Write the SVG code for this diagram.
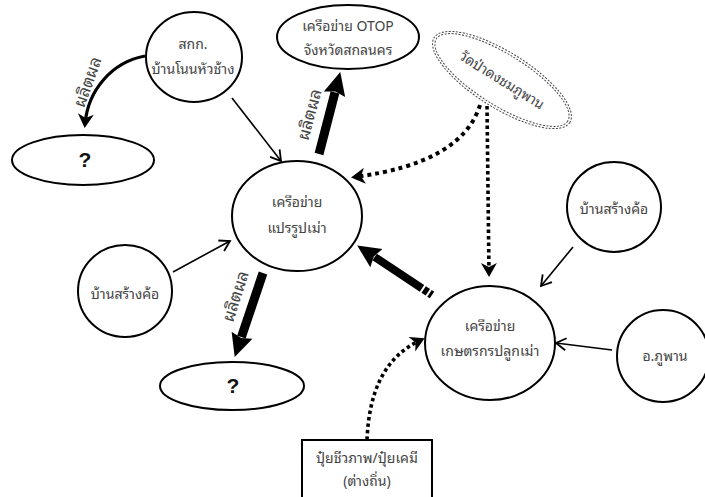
<svg xmlns="http://www.w3.org/2000/svg" width="705" height="497" viewBox="0 0 705 497">
<defs>
<style>
.node{fill:#fff;stroke:#000;stroke-width:2}
.t{font-family:"Noto Sans Thai Looped","Noto Serif Thai","Loma","Garuda","Noto Sans Thai","Noto Sans","DejaVu Sans",sans-serif;font-size:14px;fill:#444;text-anchor:middle}
.lbl{font-size:17px}
.q{font-family:"Liberation Sans",Arial,sans-serif;font-size:21px;font-weight:bold;fill:#111;text-anchor:middle}
.thin{fill:none;stroke:#000;stroke-width:1.6}
.thick{fill:none;stroke:#000;stroke-width:9}
.dot{fill:none;stroke:#000;stroke-width:3.6;stroke-dasharray:3.5 3}
</style>
<marker id="open" markerUnits="userSpaceOnUse" viewBox="-12 -8 14 16" refX="0" refY="0" markerWidth="14" markerHeight="16" orient="auto">
<path d="M-10,-6 L0,0 L-10,6" fill="none" stroke="#000" stroke-width="1.8"/>
</marker>
<marker id="notch" markerUnits="userSpaceOnUse" viewBox="-14 -10 20 20" refX="0" refY="0" markerWidth="20" markerHeight="20" orient="auto">
<path d="M4,0 L-10,-8 L-6,0 L-10,8 Z" fill="#000"/>
</marker>
<marker id="big" markerUnits="userSpaceOnUse" viewBox="-4 -13 28 26" refX="0" refY="0" markerWidth="28" markerHeight="26" orient="auto">
<path d="M-2,-11 L21,0 L-2,11 L1,0 Z" fill="#000"/>
</marker>
</defs>
<rect width="705" height="497" fill="#fff"/>

<g id="connectors">
<path d="M145,56 C112,62 88,90 85,124" fill="none" stroke="#000" stroke-width="3.2" marker-end="url(#notch)"/>
<text class="t lbl" transform="translate(93,84) rotate(-70)">ผลิตผล</text>
<line class="thin" x1="232" y1="98" x2="281" y2="161" marker-end="url(#open)"/>
<line class="thick" x1="319" y1="154" x2="335" y2="92.4" marker-end="url(#big)"/>
<text class="t lbl" transform="translate(315,116) rotate(-75)">ผลิตผล</text>
<path class="dot" d="M480,105 Q462,163 355,177" style="stroke-width:4;stroke-dasharray:4 4" marker-end="url(#notch)"/>
<line class="dot" x1="487" y1="106" x2="489" y2="273" marker-end="url(#notch)"/>
<path d="M432,295 L374.7,257" fill="none" stroke="#000" stroke-width="8" stroke-dasharray="3 2 5 2 1000" marker-end="url(#big)"/>
<line class="thin" x1="173" y1="272" x2="230" y2="241" marker-end="url(#open)"/>
<line class="thick" x1="263" y1="273" x2="241.4" y2="337.1" marker-end="url(#big)"/>
<text class="t lbl" transform="translate(241,298) rotate(-72)">ผลิตผล</text>
<line class="thin" x1="573" y1="247" x2="541" y2="286" marker-end="url(#open)"/>
<line class="thin" x1="612" y1="350" x2="556" y2="343" marker-end="url(#open)"/>
<path class="dot" d="M367,440 C369,392 384,357 421,340" marker-end="url(#notch)"/>
</g>

<g id="n-saktk">
<ellipse class="node" cx="194" cy="57" rx="48" ry="45"/>
<text class="t" x="193" y="49">สกก.</text>
<text class="t" x="193" y="74">บ้านโนนหัวช้าง</text>
</g>
<g id="n-q1">
<ellipse class="node" cx="83" cy="160" rx="71" ry="25"/>
<text class="q" x="85" y="167">?</text>
</g>
<g id="n-otop">
<ellipse class="node" cx="348" cy="37" rx="71" ry="32"/>
<text class="t" x="348" y="31">เครือข่าย OTOP</text>
<text class="t" x="348" y="55">จังหวัดสกลนคร</text>
</g>
<g id="n-wat">
<g transform="translate(502,80) rotate(32)">
<ellipse cx="0" cy="0" rx="80" ry="28" fill="none" stroke="#444" stroke-width="1" stroke-dasharray="2 1.5"/>
<ellipse cx="0" cy="0" rx="77.5" ry="25.5" fill="none" stroke="#444" stroke-width="1" stroke-dasharray="2 1.5"/>
<text class="t" x="0" y="5">วัดป่าดงชมภูพาน</text>
</g>
</g>
<g id="n-center">
<ellipse class="node" cx="297" cy="216" rx="65" ry="55"/>
<text class="t" x="297" y="207">เครือข่าย</text>
<text class="t" x="297" y="233">แปรรูปเม่า</text>
</g>
<g id="n-left">
<ellipse class="node" cx="125" cy="291" rx="47" ry="46"/>
<text class="t" x="125" y="299">บ้านสร้างค้อ</text>
</g>
<g id="n-q2">
<ellipse class="node" cx="232" cy="386" rx="72" ry="24"/>
<text class="q" x="233" y="393">?</text>
</g>
<g id="n-farm">
<ellipse class="node" cx="490" cy="343" rx="65" ry="57"/>
<text class="t" x="490" y="331">เครือข่าย</text>
<text class="t" x="490" y="356">เกษตรกรปลูกเม่า</text>
</g>
<g id="n-right">
<ellipse class="node" cx="614" cy="207" rx="47" ry="45"/>
<text class="t" x="614" y="214">บ้านสร้างค้อ</text>
</g>
<g id="n-phuphan">
<ellipse class="node" cx="663" cy="356" rx="46" ry="46"/>
<text class="t" x="665" y="361">อ.ภูพาน</text>
</g>
<g id="n-box">
<rect class="node" x="302" y="440" width="130" height="62"/>
<text class="t" x="367" y="463">ปุ๋ยชีวภาพ/ปุ๋ยเคมี</text>
<text class="t" x="367" y="486">(ต่างถิ่น)</text>
</g>
</svg>
